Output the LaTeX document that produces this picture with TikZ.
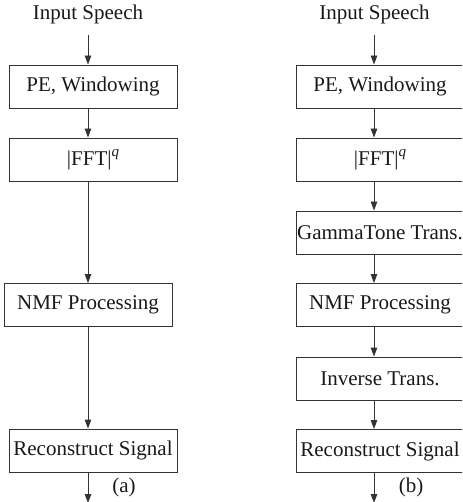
\documentclass[tikz,border=0pt]{standalone}
\usepackage{fontspec}
\setmainfont{Liberation Serif}
\usetikzlibrary{arrows.meta}
\newcommand{\fftq}{\textbar FFT\textbar\raisebox{0.42em}{\fontsize{15}{15}\selectfont\itshape q}}
\begin{document}
\begin{tikzpicture}[x=1pt,y=-1pt,
  every node/.style={font=\fontsize{21}{25}\selectfont, text=black!90},
  blk/.style={draw=black!80, line width=0.9pt, minimum width=168pt, minimum height=43pt, inner sep=0pt},
  lbl/.style={inner sep=0pt},
  conn/.style={draw=black!80, line width=0.9pt, -{Triangle[length=9pt,width=6.5pt]}}]
\useasboundingbox (0,0) rectangle (462,502);
\clip (0,0) rectangle (462,502);
% ---- (a) ----
\node[lbl] (ia) at (88,14) {Input Speech};
\coordinate (ia0) at (88,35);
\node[blk] (pea) at (93,86.5) {PE, Windowing};
\node[blk] (ffta) at (93,159.5) {\fftq};
\node[blk] (nmfa) at (88,305) {NMF Processing};
\node[blk] (reca) at (93,450.5) {Reconstruct Signal};
\coordinate (outa) at (88,503);
\node[lbl] (capa) at (124,487) {(a)};
\draw[conn] (ia0) -- (ia0 |- pea.north);
\draw[conn] (ia0 |- pea.south) -- (ia0 |- ffta.north);
\draw[conn] (ia0 |- ffta.south) -- (nmfa.north);
\draw[conn] (nmfa.south) -- (ia0 |- reca.north);
\draw[conn] (ia0 |- reca.south) -- (outa);
% ---- (b) ----
\node[lbl] (ib) at (374.5,14) {Input Speech};
\coordinate (ib0) at (374,35);
\node[blk] (peb) at (380,86.5) {PE, Windowing};
\node[blk] (fftb) at (380,159.5) {\fftq};
\node[blk] (gtb) at (380,232.5) {GammaTone Trans.};
\node[blk] (nmfb) at (380,305) {NMF Processing};
\node[blk] (invb) at (380,378.5) {Inverse Trans.};
\node[blk] (recb) at (380,451) {Reconstruct Signal};
\coordinate (outb) at (374,503);
\node[lbl] (capb) at (411,487) {(b)};
\draw[conn] (ib0) -- (ib0 |- peb.north);
\draw[conn] (ib0 |- peb.south) -- (ib0 |- fftb.north);
\draw[conn] (ib0 |- fftb.south) -- (ib0 |- gtb.north);
\draw[conn] (ib0 |- gtb.south) -- (ib0 |- nmfb.north);
\draw[conn] (ib0 |- nmfb.south) -- (ib0 |- invb.north);
\draw[conn] (ib0 |- invb.south) -- (ib0 |- recb.north);
\draw[conn] (ib0 |- recb.south) -- (outb);
\end{tikzpicture}
\end{document}
